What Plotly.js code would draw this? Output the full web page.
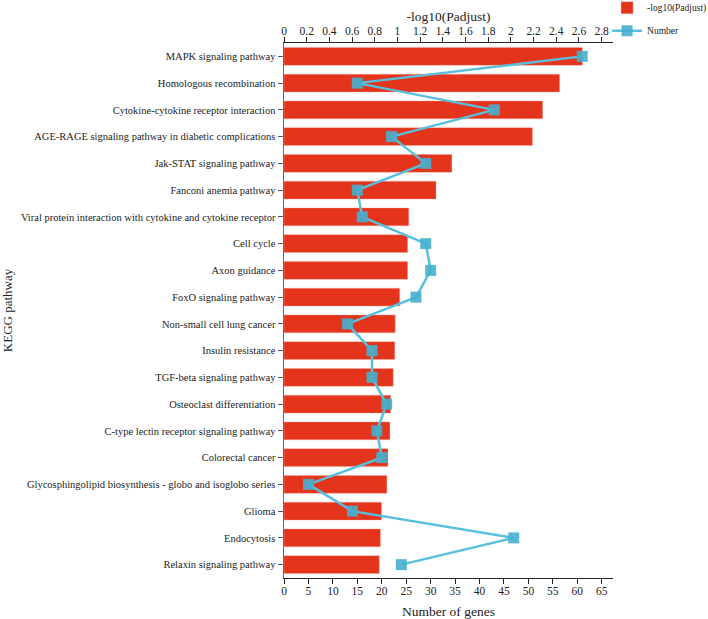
<!DOCTYPE html>
<html><head><meta charset="utf-8">
<script src="https://cdn.plot.ly/plotly-3.0.1.min.js"></script>
<style>body{margin:0;background:#fff}#chart{width:708px;height:619px}</style>
</head><body><div id="chart"></div>
<script>
const pathways = ["MAPK signaling pathway","Homologous recombination","Cytokine-cytokine receptor interaction","AGE-RAGE signaling pathway in diabetic complications","Jak-STAT signaling pathway","Fanconi anemia pathway","Viral protein interaction with cytokine and cytokine receptor","Cell cycle","Axon guidance","FoxO signaling pathway","Non-small cell lung cancer","Insulin resistance","TGF-beta signaling pathway","Osteoclast differentiation","C-type lectin receptor signaling pathway","Colorectal cancer","Glycosphingolipid biosynthesis - globo and isoglobo series","Glioma","Endocytosis","Relaxin signaling pathway"];
const negLogPadj = [2.63,2.43,2.28,2.19,1.48,1.34,1.10,1.09,1.09,1.02,0.98,0.977,0.963,0.94,0.934,0.916,0.907,0.86,0.85,0.84];
const geneCounts = [61,15,43,22,29,15,16,29,30,27,13,18,18,21,19,20,5,14,47,24];
const topTicks = [0,0.2,0.4,0.6,0.8,1,1.2,1.4,1.6,1.8,2,2.2,2.4,2.6,2.8];
const bottomTicks = [0,5,10,15,20,25,30,35,40,45,50,55,60,65];

const font = {family:"Liberation Serif, Times New Roman, serif", color:"#222"};
const traces = [
  {type:"bar", orientation:"h", name:"-log10(Padjust)", x:negLogPadj, y:pathways, xaxis:"x", yaxis:"y",
   marker:{color:"#E4341C", line:{color:"rgba(255,170,160,0.7)", width:0.6}}, width:0.67, legend:"legend"},
  {type:"scatter", mode:"lines+markers", name:"Number", x:geneCounts, y:pathways, xaxis:"x2", yaxis:"y",
   line:{color:"#58BFDC", width:2.5}, marker:{symbol:"square", size:11, color:"rgba(70,175,205,0.9)"}, legend:"legend2"}
];
const layout = {
  width:708, height:619,
  margin:{l:284, r:95, t:43, b:41, autoexpand:false},
  paper_bgcolor:"#fff", plot_bgcolor:"#fff",
  font:Object.assign({size:11}, font),
  showlegend:true,
  xaxis:{side:"top", range:[0,2.9], tickvals:topTicks, ticktext:topTicks.map(String), ticks:"outside", ticklen:5, tickcolor:"#222",
    showline:true, linecolor:"#222", linewidth:1, showgrid:false, zeroline:false, tickfont:{size:11.5}, ticklabelstandoff:-3,
    title:{text:"-log10(Padjust)", font:{size:13.5}, standoff:0}},
  xaxis2:{overlaying:"x", side:"bottom", range:[0,67.3], tickvals:bottomTicks, ticks:"outside", ticklen:5, tickcolor:"#222",
    showline:true, linecolor:"#222", linewidth:1, showgrid:false, zeroline:false, tickfont:{size:11.5}, ticklabelstandoff:-3,
    title:{text:"Number of genes", font:{size:13.5}, standoff:10}},
  yaxis:{range:[19.5,-0.5], type:"category", ticks:"outside", ticklen:5, tickcolor:"#555", showline:true, linecolor:"#666", linewidth:1.5,
    showgrid:false, tickfont:{size:10.5}, title:{text:"KEGG pathway", font:{size:13}, standoff:10}},
  legend:{x:0.982, y:1.093, xanchor:"left", yanchor:"top", font:{size:9.5}, bgcolor:"rgba(0,0,0,0)"},
  legend2:{x:0.982, y:1.05, xanchor:"left", yanchor:"top", font:{size:9.5}, bgcolor:"rgba(0,0,0,0)"}
};
Plotly.newPlot("chart", traces, layout, {displayModeBar:false, staticPlot:true});
</script></body></html>
